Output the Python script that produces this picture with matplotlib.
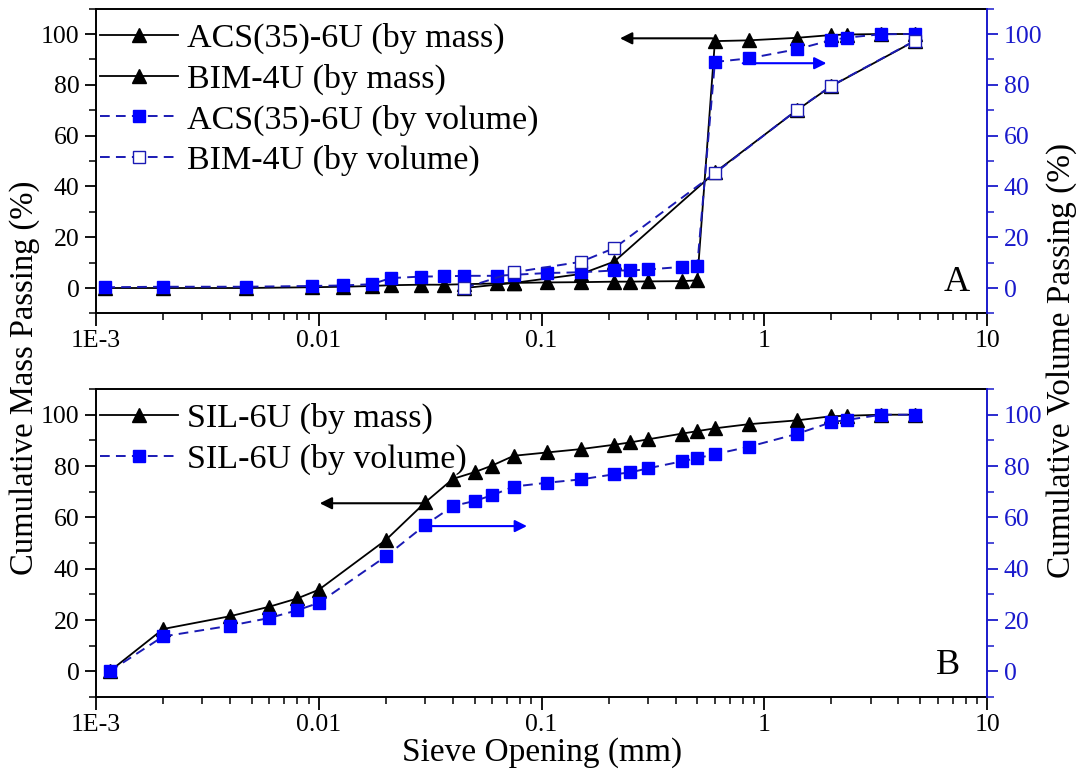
import matplotlib
matplotlib.use("Agg")
import matplotlib.pyplot as plt
from matplotlib.ticker import FixedLocator, MultipleLocator, FixedFormatter, LogLocator, NullFormatter

plt.rcParams['font.family'] = ['Liberation Serif', 'DejaVu Serif']
plt.rcParams['mathtext.fontset'] = 'stix'

# ---------------- data ----------------
acs_x = [0.0011, 0.002, 0.0047, 0.0093, 0.0128, 0.0173, 0.021, 0.0288, 0.0365, 0.045,
         0.063, 0.075, 0.106, 0.15, 0.212, 0.25, 0.3, 0.425, 0.5, 0.6, 0.85, 1.4, 2.0,
         2.36, 3.35, 4.75]
acs_mass = [0, 0, 0, 0.3, 0.5, 0.8, 1.1, 1.3, 1.3, 1.5, 1.8, 2.0, 2.2, 2.3, 2.5, 2.5,
            2.6, 2.7, 3.0, 97.2, 97.5, 98.5, 99.6, 99.8, 100, 100]
acs_vol = [0.3, 0.5, 0.5, 0.8, 1.0, 1.5, 3.9, 4.5, 4.6, 4.8, 4.8, 5.2, 5.9, 6.2, 6.9,
           6.9, 7.3, 8.3, 8.8, 89.0, 90.4, 94.0, 97.6, 98.6, 99.9, 100]

bim_x = [0.045, 0.075, 0.15, 0.212, 0.6, 1.4, 2.0, 4.75]
bim_mass = [0, 2.0, 5.5, 10.4, 45.5, 70.0, 79.5, 97.3]
bim_vol = [0, 6.2, 10.3, 15.7, 45.2, 70.1, 79.6, 97.4]

sil_x = [0.00115, 0.002, 0.004, 0.006, 0.008, 0.01, 0.02, 0.03, 0.04, 0.05, 0.06, 0.075,
         0.106, 0.15, 0.212, 0.25, 0.3, 0.425, 0.5, 0.6, 0.85, 1.4, 2.0, 2.36, 3.35, 4.75]
sil_mass = [0, 16.5, 21.5, 25.2, 28.4, 31.8, 51.2, 65.8, 75.0, 77.6, 80.2, 84.0, 85.3,
            86.6, 88.3, 89.2, 90.4, 92.6, 93.6, 94.7, 96.3, 97.8, 99.4, 99.6, 100, 100]
sil_vol = [0, 13.6, 17.8, 20.8, 23.8, 26.7, 44.8, 57.0, 64.4, 66.4, 68.6, 72.0, 73.5,
           74.8, 76.8, 77.5, 79.1, 81.8, 83.1, 84.6, 87.5, 92.5, 97.1, 98.0, 100, 100]

xtick_vals = [0.001, 0.01, 0.1, 1, 10]
xtick_labels = ['1E-3', '0.01', '0.1', '1', '10']
ytick_vals = [0, 20, 40, 60, 80, 100]

BLUE_AX = '#1a1acc'
BLUE_LINE = '#1a1ab4'
BLUE_MK = '#0000ff'

fig = plt.figure(figsize=(10.84, 7.75), dpi=100)
ax_top = fig.add_axes([0.0886, 0.5956, 0.822, 0.3933])
ax_bot = fig.add_axes([0.0886, 0.1006, 0.822, 0.3974])

TICK_FS = 18.5
LEG_FS = 24.5


def style(ax):
    ax2 = ax.twinx()
    ax.set_xscale('log')
    ax.set_xlim(0.001, 10)
    ax.set_ylim(-10, 110)
    ax2.set_ylim(-10, 110)
    ax.xaxis.set_major_locator(FixedLocator(xtick_vals))
    ax.xaxis.set_major_formatter(FixedFormatter(xtick_labels))
    ax.xaxis.set_minor_locator(LogLocator(base=10, subs=range(2, 10)))
    ax.xaxis.set_minor_formatter(NullFormatter())
    for a in (ax, ax2):
        a.yaxis.set_major_locator(FixedLocator(ytick_vals))
        a.yaxis.set_minor_locator(MultipleLocator(10))
    ax.tick_params(axis='x', which='major', direction='out', length=9, width=1.3,
                   labelsize=TICK_FS, pad=3, top=False)
    ax.tick_params(axis='x', which='minor', direction='out', length=5, width=1.1, top=False)
    ax.tick_params(axis='y', which='major', direction='out', length=8, width=1.3,
                   labelsize=TICK_FS, pad=4, right=False)
    ax.tick_params(axis='y', which='minor', direction='out', length=5, width=1.1, right=False)
    ax2.tick_params(axis='y', which='major', direction='out', length=8, width=1.3,
                    labelsize=TICK_FS, pad=4, colors=BLUE_AX)
    ax2.tick_params(axis='y', which='minor', direction='out', length=5, width=1.1,
                    colors=BLUE_AX)
    for s in ('left', 'top', 'bottom'):
        ax.spines[s].set_linewidth(1.4)
        ax2.spines[s].set_visible(False)
    ax.spines['right'].set_visible(False)
    ax2.spines['right'].set_color(BLUE_AX)
    ax2.spines['right'].set_linewidth(1.4)
    return ax2


ax_top2 = style(ax_top)
ax_bot2 = style(ax_bot)

mk_kw = dict(markersize=10)
sq_kw = dict(markersize=8.5)

leg_kw = dict(loc='upper left', frameon=False, fontsize=LEG_FS, handlelength=2.3,
              handletextpad=0.25, labelspacing=0.28, borderaxespad=0.0, borderpad=0.12,
              numpoints=1, markerscale=0.95)

# ---------- top panel ----------
l1, = ax_top.plot(acs_x, acs_mass, '-', color='black', lw=1.3, marker='^',
                  mfc='black', mec='black', label='ACS(35)-6U (by mass)', **mk_kw)
l2, = ax_top.plot(bim_x, bim_mass, '-', color='black', lw=1.3, marker='^',
                  mfc='black', mec='black', label='BIM-4U (by mass)', **mk_kw)
l3, = ax_top2.plot(acs_x, acs_vol, color=BLUE_LINE, lw=1.4, dashes=(5, 3.2), marker='s',
                   mfc=BLUE_MK, mec=BLUE_MK, label='ACS(35)-6U (by volume)', **sq_kw)
l4, = ax_top2.plot(bim_x, bim_vol, color=BLUE_LINE, lw=1.4, dashes=(5, 3.2), marker='s',
                   mfc='white', mec=BLUE_LINE, mew=1.0, label='BIM-4U (by volume)', **sq_kw)

ax_top2.legend(handles=[l1, l2, l3, l4], bbox_to_anchor=(0.0, 0.967), **leg_kw)

ax_top.annotate('', xy=(0.225, 98.3), xytext=(0.585, 98.3),
                arrowprops=dict(arrowstyle='-|>', color='black', lw=1.5, mutation_scale=18,
                                shrinkA=0, shrinkB=0))
ax_top2.annotate('', xy=(1.9, 88.5), xytext=(0.8, 88.5),
                 arrowprops=dict(arrowstyle='-|>', color=BLUE_MK, lw=1.5, mutation_scale=18,
                                 shrinkA=0, shrinkB=0))
ax_top.text(0.966, 0.10, 'A', transform=ax_top.transAxes, fontsize=26, ha='center', va='center')

# ---------- bottom panel ----------
m1, = ax_bot.plot(sil_x, sil_mass, '-', color='black', lw=1.3, marker='^',
                  mfc='black', mec='black', label='SIL-6U (by mass)', **mk_kw)
m2, = ax_bot2.plot(sil_x, sil_vol, color=BLUE_LINE, lw=1.4, dashes=(5, 3.2), marker='s',
                   mfc=BLUE_MK, mec=BLUE_MK, label='SIL-6U (by volume)', **sq_kw)
ax_bot2.legend(handles=[m1, m2], bbox_to_anchor=(0.0, 0.968), **leg_kw)

ax_bot.annotate('', xy=(0.0101, 65.5), xytext=(0.0295, 65.5),
                arrowprops=dict(arrowstyle='-|>', color='black', lw=1.5, mutation_scale=18,
                                shrinkA=0, shrinkB=0))
ax_bot2.annotate('', xy=(0.086, 56.6), xytext=(0.0305, 56.6),
                 arrowprops=dict(arrowstyle='-|>', color=BLUE_MK, lw=1.5, mutation_scale=18,
                                 shrinkA=0, shrinkB=0))
ax_bot.text(0.956, 0.104, 'B', transform=ax_bot.transAxes, fontsize=26, ha='center', va='center')

ax_bot.set_xlabel('Sieve Opening (mm)', fontsize=24, labelpad=1)

fig.text(0.023, 0.512, 'Cumulative Mass Passing (%)', rotation=90, fontsize=23.5,
         ha='center', va='center')
fig.text(0.979, 0.535, 'Cumulative Volume Passing (%)', rotation=90, fontsize=24,
         ha='center', va='center')

fig.savefig('out.png', dpi=100)
